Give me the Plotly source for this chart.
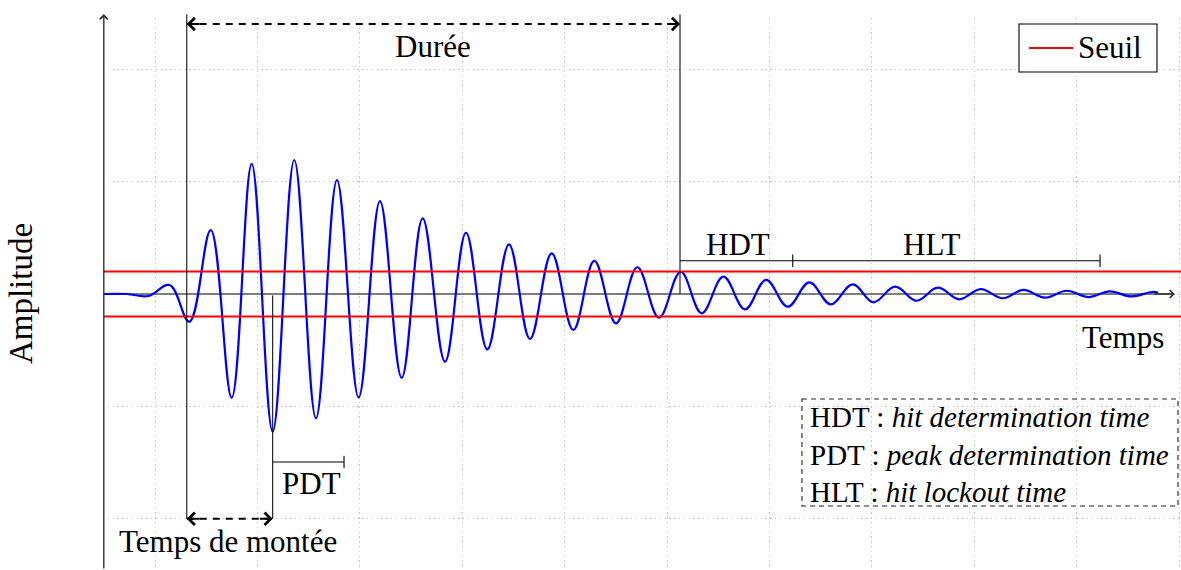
import plotly.graph_objects as go

# ---- data (time in grid units, amplitude in grid units) ----
TEMPS = [0.500, 0.727, 0.935, 1.142, 1.335, 1.544, 1.749, 1.944, 2.149, 2.360,
         2.572, 2.777, 2.989, 3.197, 3.409, 3.614, 3.832, 4.037, 4.245, 4.457,
         4.662, 4.874, 5.085, 5.290, 5.502, 5.710, 5.922, 6.134, 6.339, 6.550,
         6.762, 6.967, 7.179, 7.390, 7.599, 7.813, 8.015, 8.227, 8.438, 8.644,
         8.854, 9.063, 9.278, 9.480, 9.691, 9.903, 10.111, 10.326, 10.531, 10.736,
         10.795]
AMPLITUDE = [0.000, 0.000, -0.018, 0.080, -0.246, 0.569, -0.923, 1.157, -1.225, 1.192,
             -1.106, 1.014, -0.920, 0.827, -0.745, 0.673, -0.602, 0.545, -0.492, 0.442,
             -0.400, 0.362, -0.320, 0.294, -0.261, 0.238, -0.211, 0.198, -0.172, 0.154,
             -0.136, 0.125, -0.113, 0.104, -0.092, 0.086, -0.074, 0.065, -0.060, 0.056,
             -0.047, 0.044, -0.038, 0.036, -0.033, 0.029, -0.027, 0.024, -0.022, 0.018,
             0.012]
SEUIL = 0.2
T_DEBUT = 1.31      # first threshold crossing
T_PIC = 2.149       # peak amplitude
T_FIN = 6.127       # last threshold crossing
T_PDT = 2.846
T_HDT = 7.228
T_HLT = 10.229
SERIES_NAME = "Seuil"
DEFINITIONS = [("HDT", "hit determination time"),
               ("PDT", "peak determination time"),
               ("HLT", "hit lockout time")]

X_RANGE = [0.4922, 11.0195]
Y_RANGE = [-2.4555, 2.4555]
FONT = "Liberation Serif, Times New Roman, serif"
FS = 31

fig = go.Figure()

fig.add_trace(go.Scatter(
    x=TEMPS, y=AMPLITUDE, mode="lines", showlegend=False, hoverinfo="skip",
    line=dict(color="#0000ff", width=2.2, shape="spline", smoothing=1.1)))

fig.add_trace(go.Scatter(
    x=[0.5, X_RANGE[1] + 0.2, None, 0.5, X_RANGE[1] + 0.2],
    y=[SEUIL, SEUIL, None, -SEUIL, -SEUIL],
    mode="lines", name=SERIES_NAME, line=dict(color="#ff0000", width=2),
    connectgaps=False, hoverinfo="skip", showlegend=False))

shapes = []
ann = []

AX_COL = "#555555"
# x axis line (below traces) + arrow head
shapes.append(dict(type="line", xref="x", yref="y", x0=0.5, x1=10.93, y0=0, y1=0,
                   line=dict(color=AX_COL, width=1.4), layer="between"))
ann.append(dict(x=10.96, y=0, ax=10.75, ay=0, xref="x", yref="y", axref="x", ayref="y",
                text="", showarrow=True, arrowhead=4, arrowsize=1.1, arrowwidth=1.4,
                arrowcolor="#333333"))
# y axis with arrow
ann.append(dict(x=0.5, y=2.49, ax=0.5, ay=Y_RANGE[0], xref="x", yref="y", axref="x", ayref="y",
                text="", showarrow=True, arrowhead=4, arrowsize=1.1, arrowwidth=1.4,
                arrowcolor="#333333"))

def vline(t, y_from, y_to, width=1.1, color="#111111"):
    ann.append(dict(x=t, y=y_to, ax=t, ay=y_from, xref="x", yref="y", axref="x", ayref="y",
                    text="", showarrow=True, arrowhead=0, arrowwidth=width, arrowcolor=color))

vline(T_DEBUT, 2.5, -2.0)
vline(T_FIN, 2.5, 0.0)
vline(T_PIC, 0.0, -2.0)

def dashed_double_arrow(t0, t1, y):
    shapes.append(dict(type="line", xref="x", yref="y", x0=t0, x1=t1, y0=y, y1=y,
                       line=dict(color="black", width=2, dash="7px,6px")))
    for head, tail in ((t0, t0 + 0.14), (t1, t1 - 0.14)):
        ann.append(dict(x=head, y=y, ax=tail, ay=y, xref="x", yref="y", axref="x", ayref="y",
                        text="", showarrow=True, arrowhead=4, arrowsize=1.2, arrowwidth=2,
                        arrowcolor="black"))

dashed_double_arrow(T_DEBUT, T_FIN, 2.402)
dashed_double_arrow(T_DEBUT, T_PIC, -2.0)

def bar(t0, t1, y, tick=0.055):
    shapes.append(dict(type="line", xref="x", yref="y", x0=t0, x1=t1, y0=y, y1=y,
                       line=dict(color="black", width=1.1)))
    shapes.append(dict(type="line", xref="x", yref="y", x0=t1, x1=t1, y0=y - tick, y1=y + tick,
                       line=dict(color="black", width=1.1)))

bar(T_PIC, T_PDT, -1.495)
bar(T_FIN, T_HDT, 0.296)
bar(T_HDT, T_HLT, 0.296)

def label(text, x, y, xanchor="center", size=FS):
    ann.append(dict(x=x, y=y, xref="x", yref="y", text=text, showarrow=False,
                    xanchor=xanchor, yanchor="middle",
                    font=dict(family=FONT, size=size, color="black")))

label("Durée", (T_DEBUT + T_FIN) / 2, 2.206)
label("Temps de montée", 1.713, -2.198)
label("PDT", 2.533, -1.686)
label("HDT", 6.693, 0.436)
label("HLT", 8.583, 0.436)
label("Temps", 10.873, -0.391, xanchor="right")

# definitions box
shapes.append(dict(type="rect", xref="x", yref="y", x0=7.318, x1=10.99, y0=-0.934, y1=-1.886,
                   line=dict(color="#222222", width=1.1, dash="5px,4px")))
for (abbr, meaning), yy in zip(DEFINITIONS, [-1.094, -1.432, -1.762]):
    label(f"{abbr} : <i>{meaning}</i>", 7.378, yy, xanchor="left", size=29)

# legend box (threshold)
shapes.append(dict(type="rect", xref="x", yref="y", x0=9.4375, x1=10.785, y0=1.975, y1=2.402,
                   fillcolor="white", line=dict(color="black", width=1.1)))
shapes.append(dict(type="line", xref="x", yref="y", x0=9.535, x1=9.965, y0=2.189, y1=2.189,
                   line=dict(color="#ff0000", width=2)))
label(SERIES_NAME, 9.998, 2.189, xanchor="left")

# y axis title
ann.append(dict(x=-0.076, y=0.5, xref="paper", yref="paper", text="Amplitude",
                textangle=-90, showarrow=False, xanchor="center", yanchor="middle",
                font=dict(family=FONT, size=33, color="black")))

fig.update_layout(
    width=1181, height=570, autosize=False,
    margin=dict(l=103, r=0, t=18, b=0, pad=0),
    paper_bgcolor="white", plot_bgcolor="white",
    shapes=shapes, annotations=ann,
    showlegend=False,
    xaxis=dict(range=X_RANGE, tick0=0, dtick=1, showticklabels=False, ticks="",
               showgrid=True, gridcolor="#c4c4c4", griddash="1.3px,3.5px", gridwidth=1,
               zeroline=False, showline=False, fixedrange=True),
    yaxis=dict(range=Y_RANGE, tick0=0, dtick=1, showticklabels=False, ticks="",
               showgrid=True, gridcolor="#c4c4c4", griddash="1.3px,3.5px", gridwidth=1,
               zeroline=False, showline=False, fixedrange=True),
)

fig.write_html("out.html", config={"displayModeBar": False},
               post_script="document.body.style.margin='0px';")
